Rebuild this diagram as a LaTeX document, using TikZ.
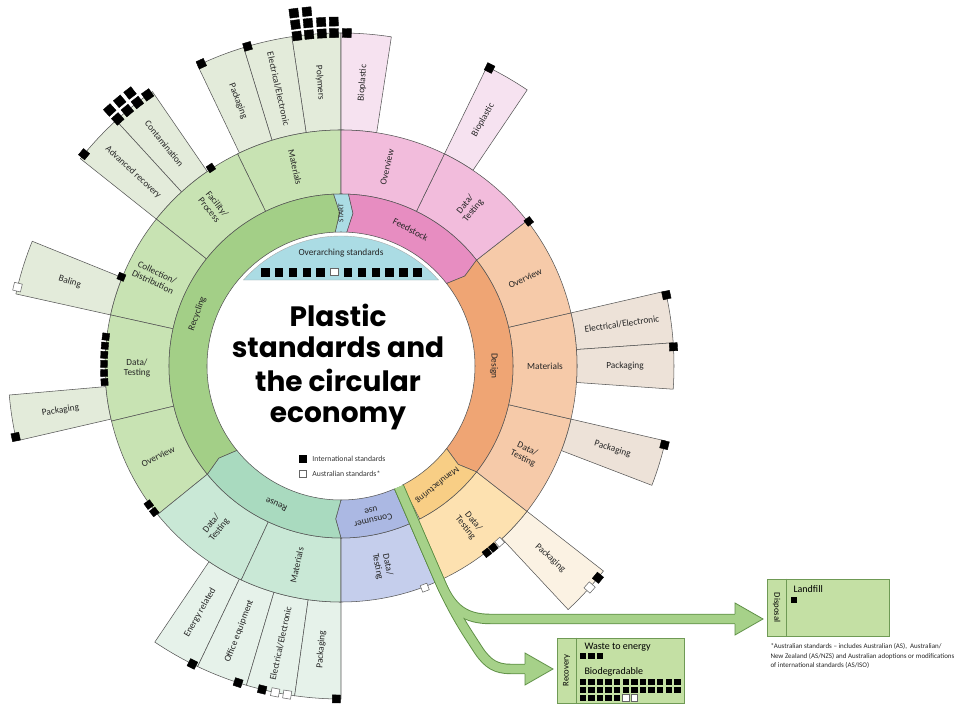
\documentclass[tikz,border=0pt]{standalone}
\usepackage{fontspec}
\setmainfont{Carlito}
\newfontfamily\titlefont{Poppins}
\usetikzlibrary{calc}

\definecolor{recA}{RGB}{163,207,135}
\definecolor{recB}{RGB}{200,227,179}
\definecolor{recC}{RGB}{227,235,218}
\definecolor{feedA}{RGB}{231,141,193}
\definecolor{feedB}{RGB}{242,188,220}
\definecolor{feedC}{RGB}{246,226,240}
\definecolor{desA}{RGB}{239,165,116}
\definecolor{desB}{RGB}{246,202,169}
\definecolor{desC}{RGB}{237,226,216}
\definecolor{manA}{RGB}{248,206,133}
\definecolor{manB}{RGB}{253,225,176}
\definecolor{manC}{RGB}{251,242,227}
\definecolor{conA}{RGB}{171,184,227}
\definecolor{conB}{RGB}{197,206,236}
\definecolor{reuA}{RGB}{169,218,191}
\definecolor{reuB}{RGB}{201,232,214}
\definecolor{reuC}{RGB}{230,242,234}
\definecolor{startblue}{RGB}{171,220,228}
\definecolor{segline}{RGB}{85,85,85}
\definecolor{bandfill}{RGB}{166,209,137}
\definecolor{banddark}{RGB}{94,143,69}
\definecolor{boxfill}{RGB}{196,224,164}
\definecolor{boxline}{RGB}{111,154,85}

\tikzset{every picture/.style={line width=0.75pt}}
\tikzset{
  seg/.style={draw=segline, line width=0.4pt},
  seglbl/.style={font=\fontsize{7}{7.6}\selectfont, align=center, inner sep=0pt, text=black!85},
  smalllbl/.style={font=\fontsize{5.8}{6.6}\selectfont, inner sep=0pt, text=black!80},
  boxlbl/.style={font=\fontsize{7.5}{8}\selectfont, inner sep=0pt, anchor=base west},
  titlelbl/.style={font=\titlefont\bfseries\fontsize{21}{24}\selectfont, inner sep=0pt, anchor=base},
  intl/.style={fill=black, draw=black, line width=0.3pt},
  aus/.style={fill=white, draw=black!60, line width=0.4pt},
  stdbox/.style={draw=boxline, fill=boxfill, line width=0.6pt, inner sep=0pt},
}

% annular piece: fill, from angle, to angle, inner r, outer r
\newcommand{\ringpart}[5]{%
  \filldraw[seg, fill=#1] (#2:#4) arc[start angle=#2, end angle=#3, radius=#4] -- (#3:#5) arc[start angle=#3, end angle=#2, radius=#5] -- cycle;}
% inner flow piece: fill, high angle, low angle, notch, tip
\newcommand{\flowpart}[5]{%
  \filldraw[seg, fill=#1] (#3:172) arc[start angle=#3, end angle=#2, radius=172] -- ({#2-#4}:153) -- (#2:134) arc[start angle=#2, end angle=#3, radius=134] -- ({#3-#5}:153) -- cycle;}
% standards square: style, angle, radius, size
\newcommand{\stdsq}[4]{%
  \pgfmathsetmacro{\sqrot}{#2-90}
  \filldraw[#1, rotate around={\sqrot:(0,0)}] ({-#4/2},{#3-#4/2}) rectangle ({#4/2},{#3+#4/2});}

\begin{document}
\begin{tikzpicture}[x=0.75pt,y=0.75pt]
\useasboundingbox (-341,-340) rectangle (620,366);

%Shape: outer boxes, Recycling
\ringpart{recC}{90}{98.5}{236}{333}
\ringpart{recC}{98.5}{107}{236}{333}
\ringpart{recC}{107}{115.5}{236}{333}
\ringpart{recC}{124.5}{132.5}{236}{333}
\ringpart{recC}{132.5}{141.5}{236}{333}
\ringpart{recC}{158}{167.5}{236}{333}
\ringpart{recC}{185}{193}{236}{333}
%Shape: outer boxes, Reuse
\ringpart{reuC}{236}{244.5}{236}{333}
\ringpart{reuC}{244.5}{253.5}{236}{333}
\ringpart{reuC}{253.5}{262}{236}{333}
\ringpart{reuC}{262}{270}{236}{333}
%Shape: outer boxes, Feedstock / Design / Manufacturing
\ringpart{feedC}{81.3}{90}{236}{333}
\ringpart{feedC}{56}{64}{236}{333}
\ringpart{desC}{4}{13}{236}{333}
\ringpart{desC}{-4}{4}{236}{333}
\ringpart{desC}{-21}{-13}{236}{333}
\ringpart{manC}{-47}{-38}{236}{333}

%Shape: middle ring
\ringpart{recB}{90}{116}{172}{236}
\ringpart{recB}{116}{141.5}{172}{236}
\ringpart{recB}{141.5}{167.5}{172}{236}
\ringpart{recB}{167.5}{193.5}{172}{236}
\ringpart{recB}{193.5}{219}{172}{236}
\ringpart{reuB}{219}{245}{172}{236}
\ringpart{reuB}{245}{270}{172}{236}
\ringpart{conB}{-90}{-66.5}{172}{236}
\ringpart{manB}{-64.3}{-38}{172}{236}
\ringpart{desB}{-38}{-13}{172}{236}
\ringpart{desB}{-13}{13}{172}{236}
\ringpart{desB}{13}{38}{172}{236}
\ringpart{feedB}{38}{64}{172}{236}
\ringpart{feedB}{64}{90}{172}{236}

%Shape: inner ring, flow pieces
\flowpart{startblue}{92.5}{87.5}{2}{2}
\flowpart{feedA}{87.5}{38}{2}{2}
\flowpart{desA}{38}{-38}{2}{2}
\flowpart{manA}{-38}{-62.8}{2}{0}
\flowpart{conA}{-66.5}{-90}{0}{2}
\flowpart{reuA}{-90}{-141}{2}{2}
\flowpart{recA}{219}{92.5}{2}{2}

%Shape: overarching segment
\filldraw[fill=startblue, draw=segline!50, line width=0.3pt] (138.6:130) arc[start angle=138.6, end angle=41.4, radius=130] -- cycle;
\foreach \i in {0,1,2,3,4,6,7,8,9,10,11}
  {\filldraw[intl] ({-79.75+13.82*\i},90.25) rectangle +(7.5,7.5);}
\filldraw[aus] ({-79.75+13.82*5},90.25) rectangle +(7.5,7.5);

%Curve Lines: flow band to recovery and disposal
\draw[banddark, line width=7.8pt] (58,-121) -- (100,-218) .. controls (111,-243) and (124,-253) .. (150,-253) -- (396,-253);
\draw[banddark, line width=7.8pt] (58,-121) -- (100,-218) .. controls (108,-236) and (118,-254) .. (127,-268) -- (138,-285) .. controls (147,-298) and (155,-303) .. (170,-303) -- (186,-303);
\draw[bandfill, line width=6.4pt] (58,-121) -- (100,-218) .. controls (111,-243) and (124,-253) .. (150,-253) -- (396,-253);
\draw[bandfill, line width=6.4pt] (58,-121) -- (100,-218) .. controls (108,-236) and (118,-254) .. (127,-268) -- (138,-285) .. controls (147,-298) and (155,-303) .. (170,-303) -- (186,-303);
\coordinate (disptip) at (422,-253);
\coordinate (rectip) at (212,-303);
\fill[bandfill] (394,-248.2) -- (394,-237) -- (disptip) -- (394,-269) -- (394,-257.8) -- cycle;
\draw[banddark, line width=0.6pt, line join=miter] (394,-248.2) -- (394,-237) -- (disptip) -- (394,-269) -- (394,-257.8);
\fill[bandfill] (184,-298.2) -- (184,-287) -- (rectip) -- (184,-319) -- (184,-307.8) -- cycle;
\draw[banddark, line width=0.6pt, line join=miter] (184,-298.2) -- (184,-287) -- (rectip) -- (184,-319) -- (184,-307.8);

%Shape: disposal and recovery boxes
\node[stdbox, minimum width=91.5pt, minimum height=42.75pt] (disposal) at (487,-241.5) {};
\draw[boxline, line width=0.6pt] ([xshift=15pt]disposal.north west) -- ([xshift=15pt]disposal.south west);
\node[stdbox, minimum width=95.25pt, minimum height=48.75pt] (recovery) at (279.5,-304.5) {};
\draw[boxline, line width=0.6pt] ([xshift=15pt]recovery.north west) -- ([xshift=15pt]recovery.south west);
\fill (450,-237) rectangle +(6,6);
\foreach \i in {0,1,2} {\fill ({238.5+8.6*\i},-293.25) rectangle +(6.5,6.5);}
\foreach \i in {0,...,11} {\fill ({238.5+8.6*\i},-319.25) rectangle +(6.5,6.5);}
\foreach \i in {0,...,11} {\fill ({238.5+8.6*\i},-327.25) rectangle +(6.5,6.5);}
\foreach \i in {0,...,4} {\fill ({238.5+8.6*\i},-335.25) rectangle +(6.5,6.5);}
\foreach \i in {5,6} {\filldraw[aus] ({238.5+8.6*\i},-335.25) rectangle +(6.5,6.5);}

%Shape: standards on the box ends
\foreach \a in {114.8,106.3,140.5,192.3,63.5,12.3,3.3,-13.7,-39.5,-90.8,-103.7,-108,-116.5}
  {\stdsq{intl}{\a}{333}{8}}
\foreach \a in {166.3,-41.7,-101.4,-99.3}
  {\stdsq{aus}{\a}{333}{8}}
%Shape: standards on the middle ring
\foreach \a in {157.9,123.3,215.8,218,37.6,-52,-50,172.9,175.1,177.3,179.5,181.7,183.9}
  {\stdsq{intl}{\a}{237}{7}}
\foreach \a in {-48,-69.3}
  {\stdsq{aus}{\a}{237}{7}}
%Shape: stacked standards
\foreach \a in {97.6,95.5,93.3,91.2,89.0} {\stdsq{intl}{\a}{333}{9}}
\foreach \a in {97.6,95.5,93.3,91.2} {\stdsq{intl}{\a}{344.5}{9}}
\foreach \a in {97.6,95.5} {\stdsq{intl}{\a}{356}{9}}
\foreach \a in {125.5,127.7,129.9,132.1} {\stdsq{intl}{\a}{333}{9}}
\foreach \a in {127.7,129.9,132.1} {\stdsq{intl}{\a}{345}{9}}

% Text Node
\node[seglbl, rotate=-85.75] (polym) at (94.25:284) {Polymers};
\node[seglbl, rotate=-77.25] (recee) at (102.75:284) {Electrical/Electronic};
\node[seglbl, rotate=-68.75] (recpack) at (111.25:284) {Packaging};
\node[seglbl, rotate=-51.5] (contam) at (128.5:284) {Contamination};
\node[seglbl, rotate=-43] (advrec) at (137:284) {Advanced recovery};
\node[seglbl, rotate=-17.25] (baling) at (162.75:284) {Baling};
\node[seglbl, rotate=9] (recpackb) at (189:284) {Packaging};
\node[seglbl, rotate=60.25] (energy) at (240.25:284) {Energy related};
\node[seglbl, rotate=69] (office) at (249:284) {Office equipment};
\node[seglbl, rotate=77.75] (reuee) at (257.75:284) {Electrical/Electronic};
\node[seglbl, rotate=86] (reupack) at (266:284) {Packaging};
\node[seglbl, rotate=85.65] (bioa) at (85.65:284) {Bioplastic};
\node[seglbl, rotate=60] (biob) at (60:284) {Bioplastic};
\node[seglbl, rotate=8.5] (desee) at (8.5:284) {Electrical/Electronic};
\node[seglbl] (despack) at (0:284) {Packaging};
\node[seglbl, rotate=-17] (despackb) at (-17:284) {Packaging};
\node[seglbl, rotate=-42.5] (manpack) at (-42.5:284) {Packaging};
% Text Node
\node[seglbl, rotate=-77] (recmat) at (103:204) {Materials};
\node[seglbl, rotate=-51.25] (facil) at (128.75:204) {Facility/\\Process};
\node[seglbl, rotate=-25.5] (collect) at (154.5:206) {Collection/\\Distribution};
\node[seglbl, rotate=0.5] (recdata) at (180.5:204) {Data/\\Testing};
\node[seglbl, rotate=26.25] (recover) at (206.25:204) {Overview};
\node[seglbl, rotate=52] (reudata) at (232:204) {Data/\\Testing};
\node[seglbl, rotate=77.5] (reumat) at (257.5:204) {Materials};
\node[seglbl, rotate=-78.25] (condata) at (-78.25:204) {Data/\\Testing};
\node[seglbl, rotate=-51] (mandata) at (-51:204) {Data/\\Testing};
\node[seglbl, rotate=-25.5] (desdata) at (-25.5:204) {Data/\\Testing};
\node[seglbl] (desmat) at (0:204) {Materials};
\node[seglbl, rotate=25.5] (desover) at (25.5:204) {Overview};
\node[seglbl, rotate=51] (feeddata) at (51:204) {Data/\\Testing};
\node[seglbl, rotate=77] (feedover) at (77:204) {Overview};
% Text Node
\node[seglbl, rotate=70] (recyc) at (160:153) {Recycling};
\node[seglbl, rotate=-27] (feedst) at (63:153) {Feedstock};
\node[seglbl, rotate=-90] (design) at (0:153) {Design};
\node[seglbl, rotate=-141, font=\fontsize{6.6}{7}\selectfont] (manuf) at (-51:153) {Manufacturing};
\node[seglbl, rotate=-168] (consum) at (-78.25:153) {Consumer\\use};
\node[seglbl, rotate=155] (reuse) at (-115:153) {Reuse};
\node[seglbl, rotate=90, font=\fontsize{5.5}{6}\selectfont] (start) at (90:153) {START};
\node[seglbl] (overarch) at (0,113) {Overarching standards};
% Text Node
\node[titlelbl] (tline1) at (-3,39) {Plastic};
\node[titlelbl] (tline2) at (-3,8) {standards and};
\node[titlelbl] (tline3) at (-3,-26) {the circular};
\node[titlelbl] (tline4) at (-3,-57) {economy};
% Text Node
\filldraw[intl] (-41.5,-96.5) rectangle +(7,7);
\filldraw[aus] (-41.5,-111.5) rectangle +(7,7);
\node[smalllbl, anchor=west] (legintl) at (-29,-93) {International standards};
\node[smalllbl, anchor=west] (legaus) at (-29,-108) {Australian standards*};
% Text Node
\node[font=\fontsize{6.5}{7}\selectfont, rotate=-90, inner sep=0pt] (displbl) at ([xshift=7.5pt]disposal.west) {Disposal};
\node[font=\fontsize{6.5}{7}\selectfont, rotate=90, inner sep=0pt] (reclbl) at ([xshift=7.5pt]recovery.west) {Recovery};
\node[boxlbl] (landfill) at (452,-227) {Landfill};
\node[boxlbl] (wte) at (243,-284) {Waste to energy};
\node[boxlbl] (biodeg) at (243,-309) {Biodegradable};
% Text Node
\node[smalllbl, anchor=base west, align=left, text=black!85, font=\fontsize{5.25}{7.4}\selectfont] (footnote) at (429,-302) {*Australian standards -- includes Australian (AS),\ \ Australian/\\New Zealand (AS/NZS) and Australian adoptions or modifications\\of international standards (AS/ISO)};

\end{tikzpicture}
\end{document}
